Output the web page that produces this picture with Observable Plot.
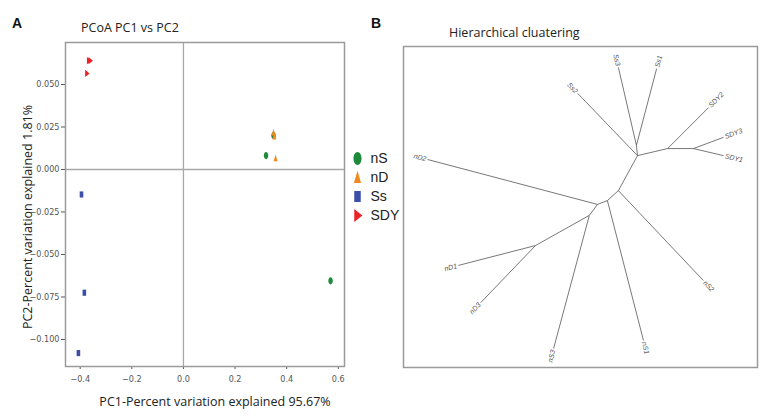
<!DOCTYPE html>
<html><head><meta charset="utf-8">
<script src="https://cdn.jsdelivr.net/npm/d3@7"></script>
<script src="https://cdn.jsdelivr.net/npm/@observablehq/plot@0.6"></script>
<style>
body{margin:0;background:#fff;}
#wrap{position:relative;width:767px;height:417px;overflow:hidden;background:#fff;}
#wrap > svg, #wrap > figure{position:absolute;margin:0;}
</style></head><body><div id="wrap"></div>
<script>
// ---------- PCoA data ----------
const groups = ["nS", "nD", "Ss", "SDY"];
const groupColors = ["#1f8a3c", "#f2891f", "#3a4fa5", "#ec2227"];
const sampleNames = ["nS1","nS2","nS3","nD1","nD2","nD3","Ss1","Ss2","Ss3","SDY1","SDY2","SDY3"];
const sampleGroup = ["nS","nS","nS","nD","nD","nD","Ss","Ss","Ss","SDY","SDY","SDY"];
const pc1 = [0.349, 0.320, 0.570, 0.349, 0.357, 0.352, -0.395, -0.384, -0.407, -0.367, -0.361, -0.374];
const pc2 = [0.0200, 0.0082, -0.0655, 0.0218, 0.0066, 0.0195, -0.0147, -0.0725, -0.1080, 0.0640, 0.0640, 0.0565];
const xTicks = [-0.4, -0.2, 0.0, 0.2, 0.4, 0.6];
const yTicks = [0.050, 0.025, 0.000, -0.025, -0.050, -0.075, -0.100];

// ---------- Tree data (layout units 0-100) ----------
const treeNodes  = ["n1","n2","Ss3","Ss1","Ss2","n3","SDY2","n4","SDY3","SDY1","n5","nS2","n6","nS1","n7","nD2","n8","nS3","n9","nD1","nD3"];
const treeParent = [null,"n1","n2","n2","n1","n1","n3","n3","n4","n4","n1","n5","n5","n6","n6","n7","n7","n8","n8","n9","n9"];
const treeU = [66.1, 65.8, 60.7, 71.5, 49.2, 74.6, 86.2, 81.9, 90.4, 90.4, 60.7, 84.7, 57.6, 67.8, 54.8, 6.8, 52.5, 42.4, 37.3, 15.5, 21.8];
const treeV = [34.0, 30.8, 6.5, 6.9, 14.6, 31.8, 19.0, 31.8, 28.3, 34.0, 44.9, 72.9, 48.0, 91.6, 49.2, 35.2, 52.6, 94.1, 62.0, 68.2, 79.8];

// ---------- symbols ----------
function poly(ctx, pts){ ctx.moveTo(pts[0][0], pts[0][1]); for (let i=1;i<pts.length;i++) ctx.lineTo(pts[i][0], pts[i][1]); ctx.closePath(); }
const symEllipse = {draw(ctx, size){ const r=Math.sqrt(size/Math.PI), rx=0.62*r, ry=r, k=0.5523;
  ctx.moveTo(0,-ry);
  ctx.bezierCurveTo(k*rx,-ry, rx,-k*ry, rx,0);
  ctx.bezierCurveTo(rx,k*ry, k*rx,ry, 0,ry);
  ctx.bezierCurveTo(-k*rx,ry, -rx,k*ry, -rx,0);
  ctx.bezierCurveTo(-rx,-k*ry, -k*rx,-ry, 0,-ry); ctx.closePath(); }};
const symTri = {draw(ctx, size){ const r=Math.sqrt(size/Math.PI); poly(ctx, [[0,-1.05*r],[0.55*r,0.85*r],[-0.55*r,0.85*r]]); }};
const symRect = {draw(ctx, size){ const r=Math.sqrt(size/Math.PI); poly(ctx, [[-0.5*r,-0.85*r],[0.5*r,-0.85*r],[0.5*r,0.85*r],[-0.5*r,0.85*r]]); }};
const symRight = {draw(ctx, size){ const r=Math.sqrt(size/Math.PI); poly(ctx, [[-0.5*r,-r],[0.75*r,0],[-0.5*r,r]]); }};
const symbolShapes = [symEllipse, symTri, symRect, symRight];

const wrap = document.getElementById("wrap");
const tickFont = '"Liberation Sans Narrow", "DejaVu Sans Condensed", sans-serif';

// ---------- Panel A ----------
const samples = sampleNames.map((name, i) => ({name, group: sampleGroup[i], pc1: pc1[i], pc2: pc2[i]}));
const left = Plot.plot({
  width: 360, height: 417,
  marginLeft: 65, marginRight: 16, marginTop: 42, marginBottom: 51,
  x: {domain: [-0.457, 0.624], ticks: xTicks, tickFormat: d3.format(".1f"), tickSize: 3, tickPadding: 6, label: null},
  y: {domain: [-0.1159, 0.0747], ticks: yTicks, tickFormat: d3.format(".3f"), tickSize: 4, tickPadding: 2, label: null},
  symbol: {domain: groups, range: symbolShapes},
  color: {domain: groups, range: groupColors},
  style: {fontSize: "9px", fontFamily: tickFont, color: "#555", background: "transparent"},
  marks: [
    Plot.ruleX([0], {stroke: "#a8a8a8", strokeWidth: 1.3}),
    Plot.ruleY([0], {stroke: "#a8a8a8", strokeWidth: 1.3}),
    Plot.frame({stroke: "#9a9a9a", strokeWidth: 1.5}),
    Plot.dot(samples, {x: "pc1", y: "pc2", symbol: "group", fill: "group", r: 3.6, stroke: "none"})
  ]
});
left.style.left = "0px"; left.style.top = "0px";
wrap.appendChild(left);

// ---------- Legend ----------
const legend = Plot.plot({
  width: 70, height: 120, margin: 0,
  x: {domain: [0, 1], range: [12, 25], axis: null},
  y: {type: "point", domain: groups, range: [13, 90], axis: null},
  symbol: {domain: groups, range: symbolShapes},
  color: {domain: groups, range: groupColors},
  style: {fontFamily: '"Liberation Sans", Arial, sans-serif', background: "transparent"},
  marks: [
    Plot.dot(groups, {x: () => 0, y: d => d, symbol: d => d, fill: d => d, r: 6.5, stroke: "none"}),
    Plot.text(groups, {x: () => 1, y: d => d, text: d => d, textAnchor: "start", fontSize: 14, fill: "#222"})
  ]
});
legend.style.left = "345px"; legend.style.top = "135px";
wrap.appendChild(legend);

// ---------- Panel B (tree) ----------
const W2 = 377, H2 = 417, ml2 = 13, mr2 = 10, mt2 = 46, mb2 = 50;
const kx = (W2 - ml2 - mr2) / 100, ky = (H2 - mt2 - mb2) / 100;
const nodeIndex = new Map(treeNodes.map((n, i) => [n, i]));
const parents = new Set(treeParent.filter(p => p));
const edges = [], labR = [], labL = [];
treeNodes.forEach((n, i) => {
  const p = treeParent[i];
  if (!p) return;
  const j = nodeIndex.get(p);
  const e = {pu: treeU[j], pv: treeV[j], u: treeU[i], v: treeV[i]};
  edges.push(e);
  if (!parents.has(n)) {
    const dx = (e.u - e.pu) * kx, dy = (e.v - e.pv) * ky;
    const len = Math.hypot(dx, dy), cx = dx / len, cy = dy / len;
    const ang = Math.atan2(dy, dx) * 180 / Math.PI;
    const lab = {name: n, u: e.u + cx * 1.5 / kx, v: e.v + cy * 1.5 / ky};
    if (cx >= 0) { lab.rot = ang; labR.push(lab); } else { lab.rot = ang + 180; labL.push(lab); }
  }
});
const right = Plot.plot({
  width: W2, height: H2, marginLeft: ml2, marginRight: mr2, marginTop: mt2, marginBottom: mb2,
  x: {domain: [0, 100], axis: null},
  y: {domain: [0, 100], reverse: true, axis: null},
  style: {fontFamily: '"Liberation Sans", Arial, sans-serif', background: "transparent"},
  marks: [
    Plot.frame({stroke: "#9a9a9a", strokeWidth: 1.5}),
    Plot.link(edges, {x1: "pu", y1: "pv", x2: "u", y2: "v", stroke: "#555", strokeWidth: 0.8}),
    Plot.text(labR, {x: "u", y: "v", text: "name", rotate: "rot", textAnchor: "start", fontSize: 7, fontStyle: "italic", fill: "#555"}),
    Plot.text(labL, {x: "u", y: "v", text: "name", rotate: "rot", textAnchor: "end", fontSize: 7, fontStyle: "italic", fill: "#555"})
  ]
});
right.style.left = "390px"; right.style.top = "0px";
wrap.appendChild(right);

// ---------- Overlay texts ----------
const ov = d3.select(wrap).append("svg").attr("width", 767).attr("height", 417)
  .style("left", "0px").style("top", "0px").style("pointer-events", "none");
const os = '"Open Sans", "Noto Sans", sans-serif';
ov.append("text").attr("x", 12).attr("y", 28).attr("font-family", '"Liberation Sans", Arial, sans-serif').attr("font-weight", "bold").attr("font-size", 14).attr("fill", "#111").text("A");
ov.append("text").attr("x", 371).attr("y", 28).attr("font-family", '"Liberation Sans", Arial, sans-serif').attr("font-weight", "bold").attr("font-size", 14).attr("fill", "#111").text("B");
ov.append("text").attr("x", 81).attr("y", 32).attr("font-family", os).attr("font-size", 12.5).attr("fill", "#222").text("PCoA PC1 vs PC2");
ov.append("text").attr("x", 449).attr("y", 37).attr("font-family", os).attr("font-size", 12.5).attr("fill", "#222").text("Hierarchical cluatering");
ov.append("text").attr("x", 215).attr("y", 406).attr("text-anchor", "middle").attr("font-family", os).attr("font-size", 12.5).attr("fill", "#222").text("PC1-Percent variation explained 95.67%");
ov.append("text").attr("transform", "translate(32,217) rotate(-90)").attr("text-anchor", "middle").attr("font-family", os).attr("font-size", 12.5).attr("fill", "#222").text("PC2-Percent variation explained 1.81%");
</script>
</body></html>
